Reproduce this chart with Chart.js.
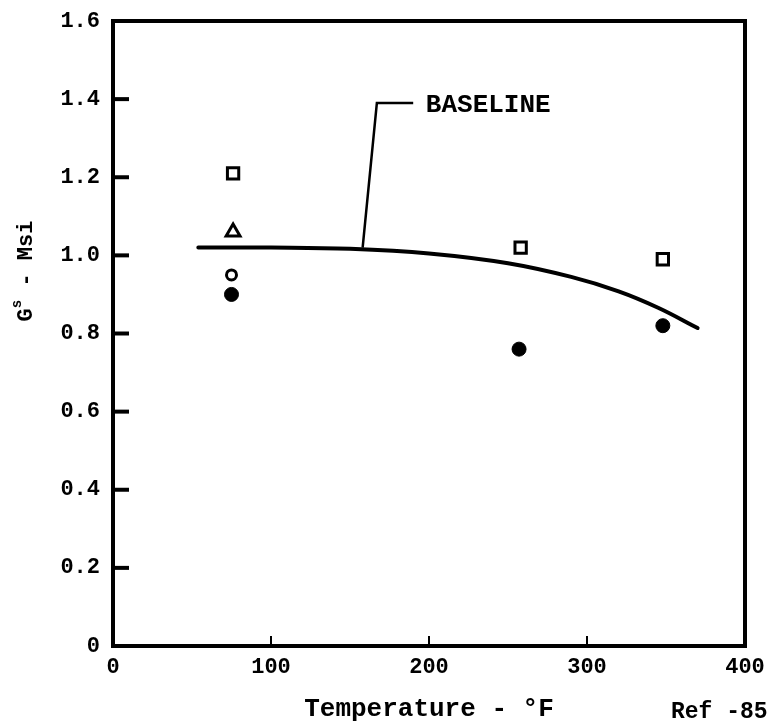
<!DOCTYPE html>
<html>
<head>
<meta charset="utf-8">
<script src="https://cdn.jsdelivr.net/npm/chart.js@4.4.0/dist/chart.umd.min.js"></script>
<style>
    html, body { margin: 0; padding: 0; background: #fff; }
    canvas { display: block; }
</style>
</head>
<body>
<canvas id="shearChart" width="769" height="725"></canvas>
<script>
// Axis ticks
const xTicks = [0, 100, 200, 300, 400];
const yTicks = [0, 0.2, 0.4, 0.6, 0.8, 1.0, 1.2, 1.4, 1.6];

// Test points (temperature in F, shear modulus in Msi)
const squareTemp = [76, 258, 348];
const squareMod = [1.21, 1.02, 0.99];
const triangleTemp = [76];
const triangleMod = [1.06];
const openCircleTemp = [75];
const openCircleMod = [0.95];
const solidCircleTemp = [75, 257, 348];
const solidCircleMod = [0.90, 0.76, 0.82];

// Baseline curve
const baselineTemp = [54, 100, 150, 200, 250, 290, 320, 345, 370];
const baselineMod = [1.02, 1.02, 1.017, 1.005, 0.98, 0.945, 0.908, 0.866, 0.814];

// Leader line to the BASELINE label
const leaderTemp = [158, 167, 190];
const leaderMod = [1.02, 1.39, 1.39];
const baselineLabel = 'BASELINE';
const labelTemp = 198;
const labelMod = 1.385;

const toPoints = (xs, ys) => xs.map((x, i) => ({ x: x, y: ys[i] }));

const FONT = '"Liberation Mono", "DejaVu Sans Mono", monospace';

// Box, inward ticks and loose text
const decorations = {
    id: 'decorations',
    afterDraw(chart) {
        const { ctx, chartArea: a, scales: { x, y } } = chart;
        ctx.save();
        ctx.strokeStyle = '#000';
        ctx.fillStyle = '#000';
        ctx.lineCap = 'square';

        ctx.lineWidth = 4;
        ctx.strokeRect(a.left, a.top, a.right - a.left, a.bottom - a.top);

        // y ticks point inward
        yTicks.slice(1, -1).forEach(v => {
            const py = y.getPixelForValue(v);
            ctx.beginPath();
            ctx.moveTo(a.left, py);
            ctx.lineTo(a.left + 14, py);
            ctx.stroke();
        });
        // x ticks point upward
        ctx.lineWidth = 2;
        xTicks.slice(1, -1).forEach(v => {
            const px = x.getPixelForValue(v);
            ctx.beginPath();
            ctx.moveTo(px, a.bottom);
            ctx.lineTo(px, a.bottom - 9);
            ctx.stroke();
        });

        // BASELINE label
        ctx.font = 'bold 26px ' + FONT;
        ctx.textAlign = 'left';
        ctx.textBaseline = 'middle';
        ctx.fillText(baselineLabel, x.getPixelForValue(labelTemp), y.getPixelForValue(labelMod));

        // Ref note, bottom right
        ctx.font = 'bold 23px ' + FONT;
        ctx.fillText('Ref -85', 671, 712);

        // y axis title with superscript
        ctx.save();
        ctx.translate(26, y.getPixelForValue(0.96));
        ctx.rotate(-Math.PI / 2);
        ctx.textAlign = 'left';
        const main = 'bold 22px ' + FONT;
        const sup = 'bold 14px ' + FONT;
        ctx.font = main;
        const wG = ctx.measureText('G').width;
        const wRest = ctx.measureText(' - Msi').width;
        ctx.font = sup;
        const wS = ctx.measureText('s').width;
        const start = -(wG + wS + wRest) / 2;
        ctx.font = main;
        ctx.fillText('G', start, 0);
        ctx.font = sup;
        ctx.fillText('s', start + wG, -9);
        ctx.font = main;
        ctx.fillText(' - Msi', start + wG + wS, 0);
        ctx.restore();

        ctx.restore();
    }
};

const ctx = document.getElementById('shearChart').getContext('2d');
new Chart(ctx, {
    type: 'scatter',
    data: {
        datasets: [
            {
                label: 'Baseline',
                data: toPoints(baselineTemp, baselineMod),
                showLine: true,
                borderColor: '#000',
                borderWidth: 4,
                borderCapStyle: 'round',
                tension: 0.4,
                pointRadius: 0,
            },
            {
                label: 'Leader',
                data: toPoints(leaderTemp, leaderMod),
                showLine: true,
                borderColor: '#000',
                borderWidth: 2.5,
                tension: 0,
                pointRadius: 0,
            },
            {
                label: 'Square',
                data: toPoints(squareTemp, squareMod),
                pointStyle: 'rect',
                pointRadius: 8,
                borderColor: '#000',
                borderWidth: 3,
                backgroundColor: '#fff',
            },
            {
                label: 'Triangle',
                data: toPoints(triangleTemp, triangleMod),
                pointStyle: 'triangle',
                pointRadius: 8,
                borderColor: '#000',
                borderWidth: 3,
                backgroundColor: '#fff',
            },
            {
                label: 'Open circle',
                data: toPoints(openCircleTemp, openCircleMod),
                pointStyle: 'circle',
                pointRadius: 5,
                borderColor: '#000',
                borderWidth: 3,
                backgroundColor: '#fff',
            },
            {
                label: 'Solid circle',
                data: toPoints(solidCircleTemp, solidCircleMod),
                pointStyle: 'circle',
                pointRadius: 7,
                borderColor: '#000',
                borderWidth: 1,
                backgroundColor: '#000',
            }
        ]
    },
    options: {
        responsive: false,
        animation: false,
        layout: { padding: { left: 0, right: 24, top: 21, bottom: 0 } },
        plugins: {
            legend: { display: false },
            tooltip: { enabled: false },
        },
        scales: {
            x: {
                type: 'linear',
                min: 0,
                max: 400,
                afterBuildTicks: scale => { scale.ticks = xTicks.map(v => ({ value: v })); },
                afterFit: scale => { scale.height = 79; },
                grid: { display: false },
                border: { display: false },
                ticks: {
                    color: '#000',
                    padding: 0,
                    font: { family: FONT, size: 22, weight: 'bold' },
                    callback: v => String(v),
                },
                title: {
                    display: true,
                    text: 'Temperature - °F',
                    color: '#000',
                    font: { family: FONT, size: 26, weight: 'bold' },
                    padding: { top: 0, bottom: 0 },
                }
            },
            y: {
                type: 'linear',
                min: 0,
                max: 1.6,
                afterBuildTicks: scale => { scale.ticks = yTicks.map(v => ({ value: v })); },
                afterFit: scale => { scale.width = 113; },
                grid: { display: false },
                border: { display: false },
                ticks: {
                    color: '#000',
                    padding: 5,
                    font: { family: FONT, size: 22, weight: 'bold' },
                    callback: v => (v === 0 ? '0' : v.toFixed(1)),
                }
            }
        }
    },
    plugins: [decorations]
});
</script>
</body>
</html>
